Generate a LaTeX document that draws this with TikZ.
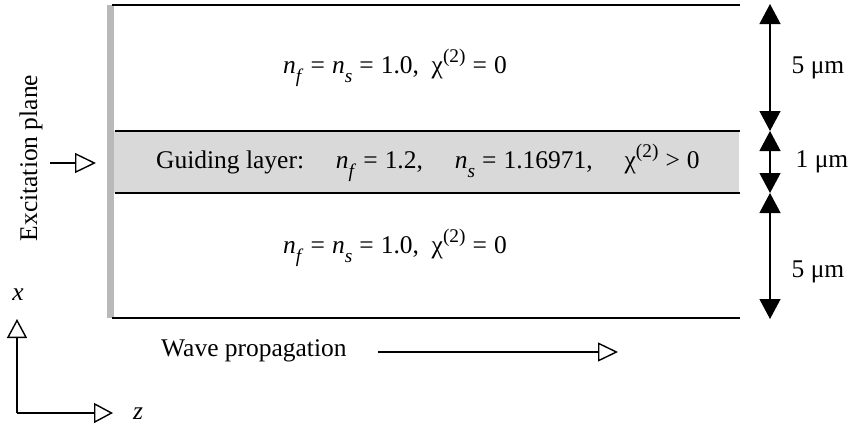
\documentclass[tikz,border=0pt]{standalone}
\usepackage{fontspec}
\setmainfont{Liberation Serif}
\usetikzlibrary{arrows.meta}
\newcommand{\nidx}[1]{\textit{n}\raisebox{-0.8ex}{\fontsize{11}{12}\selectfont\textit{#1}}}
\newcommand{\chitwo}{χ\raisebox{0.9ex}{\fontsize{11}{12}\selectfont(2)}}
\newcommand{\gap}{\hspace{1.25em}}
\begin{document}
\begin{tikzpicture}[x=0.02cm, y=-0.02cm, font=\fontsize{14.5}{17}\selectfont]
    \useasboundingbox (0,0) rectangle (851,427);
    \coordinate (T1) at (770,4);
    \coordinate (T2) at (770,131);
    \coordinate (T3) at (770,193);
    \coordinate (T4) at (770,319);
    \coordinate (O) at (17,413);
    \coordinate (X) at (17,319);
    \coordinate (Z) at (113,413);
    \fill[gray!55] (107,5) rectangle (114,318);
    \fill[gray!30] (114,131) rectangle (739,193);
    \draw[line width=0.9pt] (112,5) -- (740,5);
    \draw[line width=0.9pt] (115,131) -- (740,131);
    \draw[line width=0.9pt] (115,193) -- (740,193);
    \draw[line width=0.9pt] (112,318) -- (740,318);
    \node (top) at (395,68) {\nidx{f}\;=\;\nidx{s}\;=\;1.0,\enspace\chitwo\;=\;0};
    \node[anchor=west] (guide) at (150,163) {Guiding layer:\gap\nidx{f}\;=\;1.2,\gap\nidx{s}\;=\;1.16971,\gap\chitwo\;>\;0};
    \node (bottom) at (395,248) {\nidx{f}\;=\;\nidx{s}\;=\;1.0,\enspace\chitwo\;=\;0};
    \node (d1) at (818,68) {5 μm};
    \node (d2) at (822,162) {1 μm};
    \node (d3) at (818,272) {5 μm};
    \draw[line width=0.7pt, {Triangle[width=0.42cm,length=0.4cm]}-{Triangle[width=0.42cm,length=0.4cm]}] (T1) -- (T2);
    \draw[line width=0.7pt, {Triangle[width=0.42cm,length=0.4cm]}-{Triangle[width=0.42cm,length=0.4cm]}] (T2) -- (T3);
    \draw[line width=0.7pt, {Triangle[width=0.42cm,length=0.4cm]}-{Triangle[width=0.42cm,length=0.4cm]}] (T3) -- (T4);
    \node[rotate=90] (exc) at (31,158) {Excitation plane};
    \coordinate (e1) at (50,163);
    \coordinate (e2) at (96,163);
    \draw[line width=0.8pt, -{Triangle[open,width=0.4cm,length=0.42cm]}] (e1) -- (e2);
    \node[anchor=west] (wave) at (155,351) {Wave propagation};
    \coordinate (w1) at (378,352);
    \coordinate (w2) at (618,352);
    \draw[line width=0.8pt, -{Triangle[open,width=0.38cm,length=0.4cm]}] (w1) -- (w2);
    \draw[line width=0.8pt, -{Triangle[open,width=0.4cm,length=0.38cm]}] (O) -- (X);
    \draw[line width=0.8pt, -{Triangle[open,width=0.4cm,length=0.38cm]}] (O) -- (Z);
    \node (xl) at (18,295) {\textit{x}};
    \node (zl) at (138,414) {\textit{z}};
\end{tikzpicture}
\end{document}
